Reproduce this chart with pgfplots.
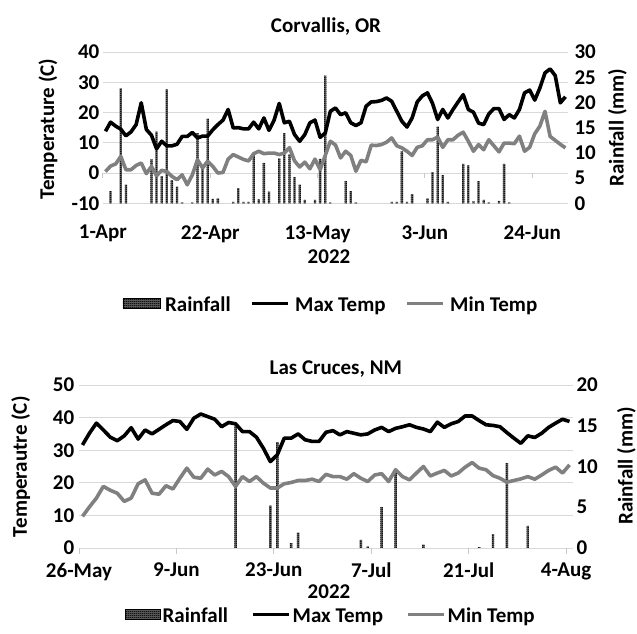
\documentclass[border=0pt]{standalone}
\usepackage{fontspec}
\setmainfont{Carlito}
\usepackage{pgfplots}
\pgfplotsset{compat=1.18}
\usepackage{pgfplotstable}
\usetikzlibrary{patterns}

\definecolor{cGrid}{RGB}{217,217,217}
\definecolor{cTick}{RGB}{200,200,200}
\definecolor{cMin}{RGB}{128,128,128}

% dense checker (light dots on dark) used for the rainfall bars
\pgfdeclarepatternformonly{rainchk}{\pgfqpoint{0pt}{0pt}}{\pgfqpoint{2pt}{2pt}}{\pgfqpoint{2pt}{2pt}}{%
  \pgfpathrectangle{\pgfqpoint{0pt}{0pt}}{\pgfqpoint{1pt}{1pt}}%
  \pgfpathrectangle{\pgfqpoint{1pt}{1pt}}{\pgfqpoint{1pt}{1pt}}%
  \pgfpathrectangle{\pgfqpoint{1pt}{0pt}}{\pgfqpoint{1pt}{1pt}}%
  \pgfusepath{fill}}

\newcommand\cf{\fontsize{21}{24}\selectfont\bfseries}

\tikzset{rainbar/.style={draw=none, fill=black!60, postaction={pattern=rainchk, pattern color=black}}}

\pgfplotsset{
  every axis/.append style={
    scale only axis, enlargelimits=false,
    axis line style={draw=none}, major tick length=0pt,
    tick label style={font=\cf},
    /pgf/number format/assume math mode=true,
    major grid style={cGrid, line width=0.9pt},
  },
  rainax/.style={axis x line=none, axis y line*=right, ybar,
    extra y tick labels={}, extra y tick style={ymajorgrids=true}},
  lgline/.style={legend image code/.code={\draw[##1] (0pt,0pt) -- (36pt,0pt);}},
  tline/.style={line width=3.6pt, line join=round, lgline},
}

% Corvallis, day 0 = 1 Apr 2022
\pgfplotstableread{
d tmax tmin
0 13.8 0.5
1 16.8 2.3
2 15.5 3.0
3 14.5 5.5
4 12.3 1.1
5 13.6 1.1
6 16.0 2.5
7 23.2 3.3
8 14.4 -0.2
9 12.5 2.2
10 8.0 -0.9
11 10.5 0.9
12 9.0 0.5
13 9.0 -1.1
14 9.5 -2.2
15 12.1 -0.6
16 12.1 -3.9
17 13.4 -0.6
18 11.6 4.4
19 12.2 1.7
20 12.2 3.9
21 14.3 2.2
22 16.0 0.0
23 17.5 0.2
24 21.0 4.6
25 14.9 6.1
26 15.0 5.3
27 14.6 4.5
28 14.6 4.0
29 16.8 6.4
30 14.6 7.2
31 18.2 6.4
32 14.1 6.6
33 17.5 6.6
34 23.0 6.1
35 16.6 6.6
36 17.1 8.4
37 12.7 4.0
38 10.5 2.0
39 12.7 3.6
40 16.6 1.4
41 17.5 4.6
42 11.8 1.1
43 13.2 5.8
44 20.4 10.5
45 21.5 9.3
46 19.3 5.0
47 19.9 7.2
48 16.6 5.8
49 15.7 0.6
50 16.6 4.2
51 22.1 3.7
52 23.5 9.2
53 23.6 9.1
54 24.0 9.4
55 24.8 10.2
56 23.7 11.6
57 20.4 9.0
58 17.1 8.3
59 15.2 7.2
60 18.2 5.8
61 23.5 8.5
62 25.5 9.0
63 26.5 11.0
64 23.0 11.0
65 17.7 11.9
66 21.0 8.5
67 18.2 11.0
68 21.0 11.0
69 23.5 12.5
70 25.9 13.5
71 21.0 10.5
72 20.1 7.2
73 16.5 9.4
74 16.0 7.7
75 19.5 11.0
76 21.3 9.0
77 21.3 7.0
78 17.7 9.9
79 19.3 9.9
80 18.2 9.7
81 21.0 12.2
82 26.5 7.2
83 27.4 8.5
84 24.1 13.0
85 28.1 15.5
86 33.1 20.4
87 34.4 12.1
88 32.2 10.8
89 23.2 9.5
90 25.2 8.3
}\corvT

\pgfplotstableread{
d r
1 2.4
3 22.8
4 3.7
9 8.7
10 14.2
11 5.4
12 22.6
13 4.6
14 3.3
15 0.2
17 0.2
18 13.9
19 7.0
20 16.8
21 0.9
22 1.0
25 0.3
26 3.0
27 0.3
28 0.3
29 9.7
30 0.8
31 8.0
32 2.3
34 8.9
35 13.9
36 9.7
37 5.2
38 3.7
39 0.7
41 0.7
42 8.8
43 25.3
44 0.2
47 4.4
48 2.4
49 0.2
56 0.3
57 0.3
58 10.3
59 0.3
60 1.8
63 1.0
64 6.2
65 15.2
66 5.6
67 0.3
70 7.8
71 7.5
72 0.4
73 4.4
74 0.7
75 0.2
77 0.5
78 7.8
79 0.2
}\corvR

% Las Cruces, day 0 = 26 May 2022
\pgfplotstableread{
d tmax tmin
0 31.6 9.7
1 35.2 12.6
2 38.3 15.3
3 36.2 18.9
4 34.0 17.7
5 32.9 16.8
6 34.4 14.3
7 36.9 15.3
8 33.4 19.7
9 36.2 20.9
10 35.0 16.8
11 36.4 16.5
12 37.8 19.1
13 39.1 18.1
14 38.8 21.4
15 36.4 24.5
16 39.8 21.7
17 41.1 21.4
18 40.3 24.2
19 39.5 22.4
20 37.2 23.5
21 38.5 21.9
22 38.1 18.9
23 35.7 21.9
24 35.7 20.4
25 34.0 21.9
26 30.6 19.9
27 26.5 18.4
28 28.6 18.4
29 33.7 19.7
30 33.7 20.1
31 35.0 20.7
32 33.2 20.7
33 32.7 21.1
34 32.7 20.4
35 35.5 22.6
36 36.0 21.9
37 34.7 21.9
38 35.7 21.1
39 35.2 22.8
40 34.7 21.4
41 35.0 20.4
42 36.2 22.4
43 37.0 22.8
44 35.7 20.4
45 36.7 24.0
46 37.2 21.9
47 37.8 20.9
48 37.0 23.0
49 36.5 25.0
50 35.7 22.1
51 38.6 23.0
52 37.0 23.8
53 38.1 22.1
54 38.8 23.0
55 40.5 24.8
56 40.5 26.2
57 39.1 24.5
58 37.8 24.0
59 37.6 22.2
60 37.2 21.4
61 35.4 20.2
62 33.7 20.7
63 32.1 21.2
64 34.4 21.9
65 33.9 21.1
66 35.2 22.4
67 37.0 23.8
68 38.3 24.8
69 39.5 23.0
70 38.8 25.5
}\lcT

\pgfplotstableread{
d r
22 15.0
27 5.2
28 13.0
30 0.6
31 1.9
40 1.0
41 0.2
43 5.0
45 9.4
49 0.4
57 0.1
59 1.7
61 10.4
64 2.7
}\lcR

\begin{document}
\begin{tikzpicture}
\useasboundingbox (0pt,0pt) rectangle (637pt,634pt);

%% ---- Corvallis ----
\begin{axis}[rainax,
  at={(102.9pt,430.7pt)}, anchor=south west,
  width=465.1pt, height=151.3pt,
  xmin=-0.5, xmax=90.5, ymin=0, ymax=30,
  ytick={0,5,...,30}, yticklabel style={xshift=3pt},
  extra y ticks={0,6,...,30},
  bar width=0.45,
]
\addplot[rainbar] table[x=d,y=r] {\corvR};
\end{axis}

\begin{axis}[
  at={(102.9pt,430.7pt)}, anchor=south west,
  width=465.1pt, height=151.3pt,
  xmin=-0.5, xmax=90.5, ymin=-10, ymax=40,
  ytick={-10,0,...,40},
  xtick={-0.5,20.5,41.5,62.5,83.5},
  xticklabels={1-Apr,22-Apr,13-May,3-Jun,24-Jun},
  xticklabel style={yshift=-18.5pt},
  clip=false,
  legend columns=3,
  legend style={at={(0.4883,-0.662)}, anchor=center, draw=none, fill=none,
    font=\cf, inner sep=0pt, nodes={inner sep=0pt},
    /tikz/every odd column/.append style={column sep=5pt},
    /tikz/every even column/.append style={column sep=20pt}},
]
\pgfplotsinvokeforeach{-0.5,20.5,41.5,62.5,83.5}{\draw[cTick, line width=0.9pt] (axis cs:#1,0) -- ++(0pt,-5pt);}
\addlegendimage{legend image code/.code={\path[rainbar] (0pt,-5pt) rectangle (37pt,5pt);}}
\addlegendentry{Rainfall\strut}
\addplot[black, tline] table[x=d,y=tmax] {\corvT};
\addlegendentry{Max Temp\strut}
\addplot[cMin, tline] table[x=d,y=tmin] {\corvT};
\addlegendentry{Min Temp\strut}
\end{axis}

\node[font=\cf, anchor=base] at (326pt,601.3pt) {Corvallis, OR};
\node[font=\cf, anchor=base, rotate=90] at (54.2pt,505pt) {Temperature (C)};
\node[font=\cf, anchor=base, rotate=90] at (623.5pt,506.5pt) {Rainfall (mm)};
\node[font=\cf, anchor=base] at (329pt,370.7pt) {2022};

%% ---- Las Cruces ----
\begin{axis}[rainax,
  at={(79pt,86pt)}, anchor=south west,
  width=494pt, height=163pt,
  xmin=-0.5, xmax=70.5, ymin=0, ymax=20,
  ytick={0,5,...,20},
  extra y ticks={0,4,...,20},
  bar width=0.35,
]
\addplot[rainbar] table[x=d,y=r] {\lcR};
\end{axis}

\begin{axis}[
  at={(79pt,86pt)}, anchor=south west,
  width=494pt, height=163pt,
  xmin=-0.5, xmax=70.5, ymin=0, ymax=50,
  ytick={0,10,...,50},
  yticklabel style={xshift=-1.3pt},
  xtick={-0.5,13.5,27.5,41.5,55.5,69.5},
  xticklabels={26-May,9-Jun,23-Jun,7-Jul,21-Jul,4-Aug},
  xticklabel style={yshift=-11.5pt},
  clip=false,
  legend columns=3,
  legend style={at={(0.508,-0.409)}, anchor=center, draw=none, fill=none,
    font=\cf, inner sep=0pt, nodes={inner sep=0pt},
    /tikz/every odd column/.append style={column sep=2pt},
    /tikz/every even column/.append style={column sep=23pt}},
]
\pgfplotsinvokeforeach{-0.5,13.5,27.5,41.5,55.5,69.5}{\draw[cTick, line width=0.9pt] (axis cs:#1,0) -- ++(0pt,-6pt);}
\addlegendimage{legend image code/.code={\path[rainbar] (0pt,-5pt) rectangle (35pt,5pt);}}
\addlegendentry{Rainfall\strut}
\addplot[black, tline] table[x=d,y=tmax] {\lcT};
\addlegendentry{Max Temp\strut}
\addplot[cMin, tline] table[x=d,y=tmin] {\lcT};
\addlegendentry{Min Temp\strut}
\end{axis}

\node[font=\cf, anchor=base] at (335.8pt,259pt) {Las Cruces, NM};
\node[font=\cf, anchor=base, rotate=90] at (26.8pt,167.3pt) {Temperautre (C)};
\node[font=\cf, anchor=base, rotate=90] at (632.5pt,168.2pt) {Rainfall (mm)};
\node[font=\cf, anchor=base] at (329pt,35pt) {2022};
\end{tikzpicture}
\end{document}
